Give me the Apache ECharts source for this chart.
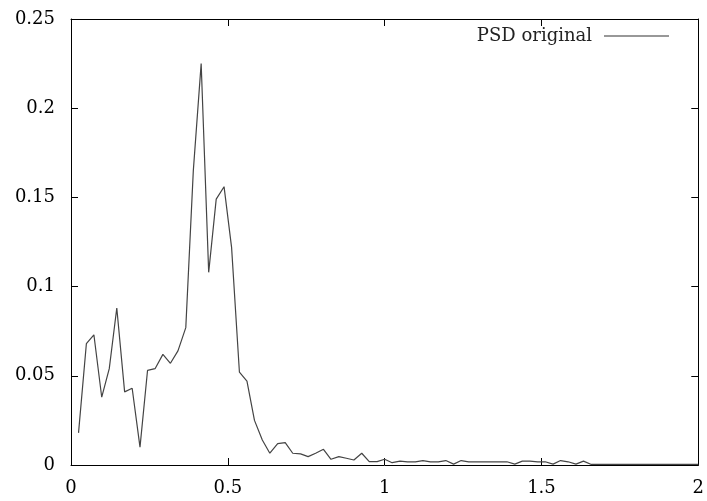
<!DOCTYPE html>
<html>
<head>
<meta charset="utf-8">
<script src="https://cdn.jsdelivr.net/npm/echarts@6/dist/echarts.min.js"></script>
<style>
html,body{margin:0;padding:0;background:#fff;}
#chart{width:707px;height:501px;}
</style>
</head>
<body>
<div id="chart"></div>
<script>
var seriesName = 'PSD original';
var freqs = [0.024,0.049,0.073,0.098,0.122,0.146,0.171,0.195,0.220,0.244,
  0.268,0.293,0.317,0.341,0.366,0.390,0.415,0.439,0.463,0.488,
  0.512,0.537,0.561,0.585,0.610,0.634,0.659,0.683,0.707,0.732,
  0.756,0.780,0.805,0.829,0.854,0.878,0.902,0.927,0.951,0.976,
  1.000,1.024,1.049,1.073,1.098,1.122,1.146,1.171,1.195,1.220,
  1.244,1.268,1.293,1.317,1.341,1.366,1.390,1.415,1.439,1.463,
  1.488,1.512,1.537,1.561,1.585,1.610,1.634,1.659,1.683,1.707,
  1.732,1.756,1.780,1.805,1.829,1.854,1.878,1.902,1.927,1.951,
  1.976,2.000];
var psd = [0.018,0.068,0.073,0.038,0.054,0.088,0.041,0.043,0.010,0.053,
  0.054,0.062,0.057,0.064,0.077,0.165,0.225,0.108,0.149,0.156,
  0.122,0.052,0.047,0.025,0.014,0.0066,0.012,0.0125,0.0066,0.0062,
  0.0047,0.0066,0.0088,0.0032,0.0047,0.0038,0.0028,0.0066,0.0019,0.0019,
  0.0032,0.0013,0.0022,0.0018,0.0018,0.0025,0.0018,0.0018,0.0025,0.0005,
  0.0025,0.0018,0.0018,0.0018,0.0018,0.0018,0.0018,0.0005,0.0022,0.0022,
  0.0018,0.0018,0.0005,0.0025,0.0018,0.0005,0.0022,0.0003,0.0003,0.0003,
  0.0003,0.0003,0.0003,0.0003,0.0003,0.0003,0.0003,0.0003,0.0003,0.0003,
  0.0003,0.0003];
var xTicks = [0, 0.5, 1, 1.5, 2];
var yTicks = [0, 0.05, 0.1, 0.15, 0.2, 0.25];

var data = freqs.map(function (f, i) { return [f, psd[i]]; });
var font = 'DejaVu Serif';
var axisBase = {
  type: 'value',
  axisLine: { show: true, onZero: false, lineStyle: { color: '#000', width: 1 } },
  axisTick: { show: true, inside: true, length: 7, lineStyle: { color: '#000', width: 1 } },
  splitLine: { show: false }
};
function ax(extra) { return Object.assign({}, JSON.parse(JSON.stringify(axisBase)), extra); }

var chart = echarts.init(document.getElementById('chart'), null, { renderer: 'canvas' });
chart.setOption({
  animation: false,
  backgroundColor: '#fff',
  grid: { left: 71, right: 7, top: 19, bottom: 36, containLabel: false },
  legend: {
    data: [seriesName],
    right: 33,
    top: 22,
    align: 'right',
    itemWidth: 65,
    itemHeight: 1,
    icon: 'rect',
    itemStyle: { color: '#333' },
    textStyle: { fontFamily: font, fontSize: 18, color: '#222', padding: [0, 7, 0, 0] }
  },
  xAxis: [
    ax({ position: 'bottom', min: xTicks[0], max: xTicks[xTicks.length - 1], interval: 0.5,
      axisLabel: { margin: 14, fontFamily: font, fontSize: 18, color: '#000',
        formatter: function (v) { return String(v); } } }),
    ax({ position: 'top', min: xTicks[0], max: xTicks[xTicks.length - 1], interval: 0.5,
      axisLabel: { show: false } })
  ],
  yAxis: [
    ax({ position: 'left', min: yTicks[0], max: yTicks[yTicks.length - 1], interval: 0.05,
      axisLabel: { margin: 16, fontFamily: font, fontSize: 18, color: '#000',
        formatter: function (v) { return String(+v.toFixed(2)); } } }),
    ax({ position: 'right', min: yTicks[0], max: yTicks[yTicks.length - 1], interval: 0.05,
      axisLabel: { show: false } })
  ],
  series: [{
    name: seriesName,
    type: 'line',
    data: data,
    xAxisIndex: 0,
    yAxisIndex: 0,
    showSymbol: false,
    symbol: 'none',
    lineStyle: { color: '#444', width: 1.2 },
    itemStyle: { color: '#444' }
  }]
});
</script>
</body>
</html>
